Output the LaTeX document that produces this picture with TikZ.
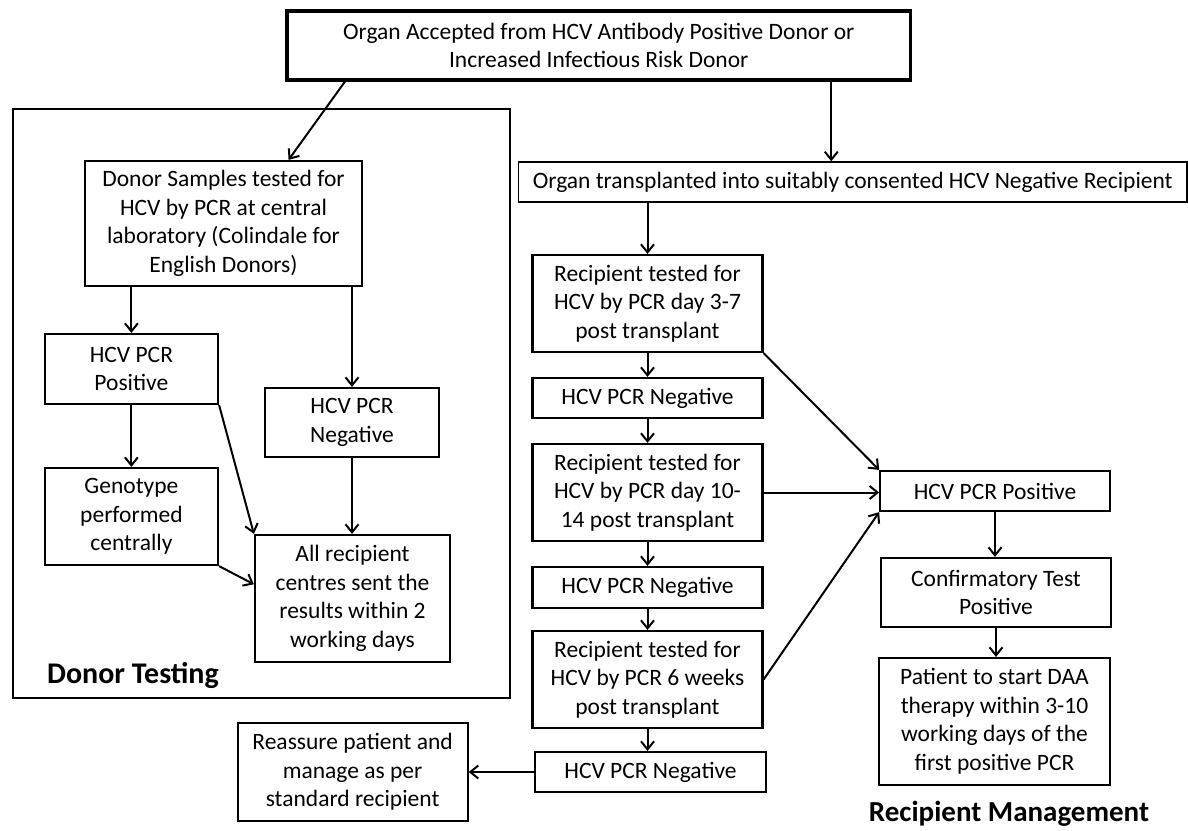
\documentclass[tikz,border=0pt]{standalone}
\usepackage{fontspec}
\setmainfont{Carlito}
\usetikzlibrary{arrows.meta,calc}
\begin{document}
\begin{tikzpicture}[x=1pt,y=-1pt,
  box/.style={draw=black,line width=2.2pt,rectangle,inner sep=0pt,align=center,
    font=\fontsize{23.5}{28.5}\selectfont},
  thickbox/.style={box,line width=3.2pt},
  thinbox/.style={box,line width=1.5pt},
  frame/.style={draw=black,line width=2.2pt,rectangle,inner sep=0pt},
  lbl/.style={inner sep=0pt,font=\fontsize{30}{34}\selectfont\bfseries},
  arr/.style={line width=2pt,-{Straight Barb[length=8pt,width=13pt,line width=2pt]}}]
\useasboundingbox[fill=white] (0,0) rectangle (1188,830);

% donor testing frame
\node[frame,minimum width=497.4pt,minimum height=589pt] (frame) at (261.3,403.5) {};

\node[thickbox,minimum width=623.5pt,minimum height=69pt] (top) at (598.75,45.5)
  {Organ Accepted from HCV Antibody Positive Donor or\\Increased Infectious Risk Donor};

\node[box,minimum width=277pt,minimum height=125pt] (samples) at (223.5,223.5)
  {Donor Samples tested for\\HCV by PCR at central\\laboratory (Colindale for\\English Donors)};
\node[box,minimum width=173.2pt,minimum height=70pt] (pos) at (131.4,369)
  {HCV PCR\\Positive};
\node[box,minimum width=174pt,minimum height=69pt] (neg) at (352,422.5)
  {HCV PCR\\Negative};
\node[box,minimum width=173.2pt,minimum height=97pt] (geno) at (131.4,516.5)
  {Genotype\\performed\\centrally};
\node[box,minimum width=195pt,minimum height=127pt] (all) at (352.5,598.5)
  {All recipient\\centres sent the\\results within 2\\working days};
\node[lbl] (dlbl) at (133,675) {Donor Testing};

\node[box,minimum width=230pt,minimum height=98pt] (reas) at (352.6,772)
  {Reassure patient and\\manage as per\\standard recipient};

\node[thinbox,minimum width=668.5pt,minimum height=40pt] (organ) at (852.75,182)
  {Organ transplanted into suitably consented HCV Negative Recipient};

\node[box,minimum width=230pt,minimum height=97pt] (r1) at (647.5,303.5)
  {Recipient tested for\\HCV by PCR day 3-7\\post transplant};
\node[box,minimum width=230pt,minimum height=40pt] (n1) at (647.5,398)
  {HCV PCR Negative};
\node[box,minimum width=230pt,minimum height=97pt] (r2) at (647.5,492.5)
  {Recipient tested for\\HCV by PCR day 10-\\14 post transplant};
\node[box,minimum width=230pt,minimum height=41pt] (n2) at (647.5,587.5)
  {HCV PCR Negative};
\node[box,minimum width=230pt,minimum height=97pt] (r3) at (647.5,679.5)
  {Recipient tested for\\HCV by PCR 6 weeks\\post transplant};
\node[box,minimum width=231pt,minimum height=40pt] (n3) at (650.5,772)
  {HCV PCR Negative};

\node[box,minimum width=229.5pt,minimum height=40pt] (hpos) at (995,491)
  {HCV PCR Positive};
\node[box,minimum width=230pt,minimum height=69pt] (conf) at (996,592.5)
  {Confirmatory Test\\Positive};
\node[box,minimum width=231pt,minimum height=127pt] (pat) at (994.5,721.5)
  {Patient to start DAA\\therapy within 3-10\\working days of the\\first positive PCR};
\node[lbl,anchor=base,font=\fontsize{29}{33}\selectfont\bfseries] (rlbl) at (1009,821) {Recipient Management};

% connectors
\coordinate (t1) at ($(top.south west)!0.095!(top.south east)$);
\coordinate (s1) at ($(samples.north west)!0.733!(samples.north east)$);
\draw[arr] (t1) -- (s1);
\coordinate (t2) at ($(top.south west)!0.871!(top.south east)$);
\draw[arr] (t2) -- (t2 |- organ.north);

\draw[arr] (pos.north |- samples.south) -- (pos.north);
\draw[arr] (neg.north |- samples.south) -- (neg.north);
\draw[arr] (pos.south) -- (geno.north);
\draw[arr] (pos.south east) -- (all.north west);
\draw[arr] (neg.south) -- (neg.south |- all.north);
\coordinate (a1) at ($(all.north west)!0.39!(all.south west)$);
\draw[arr] (geno.south east) -- (a1);

\draw[arr] (r1.north |- organ.south) -- (r1.north);
\draw[arr] (r1.south) -- (n1.north);
\draw[arr] (n1.south) -- (r2.north);
\draw[arr] (r2.south) -- (n2.north);
\draw[arr] (n2.south) -- (r3.north);
\draw[arr] (r3.south) -- (r3.south |- n3.north);

\draw[arr] (r1.south east) -- (hpos.north west);
\draw[arr] (r2.east) -- (r2.east -| hpos.west);
\draw[arr] (r3.east) -- (hpos.south west);
\draw[arr] (hpos.south) -- (hpos.south |- conf.north);
\draw[arr] (conf.south) -- (conf.south |- pat.north);

\draw[arr] (n3.west) -- (reas.east);
\end{tikzpicture}
\end{document}
